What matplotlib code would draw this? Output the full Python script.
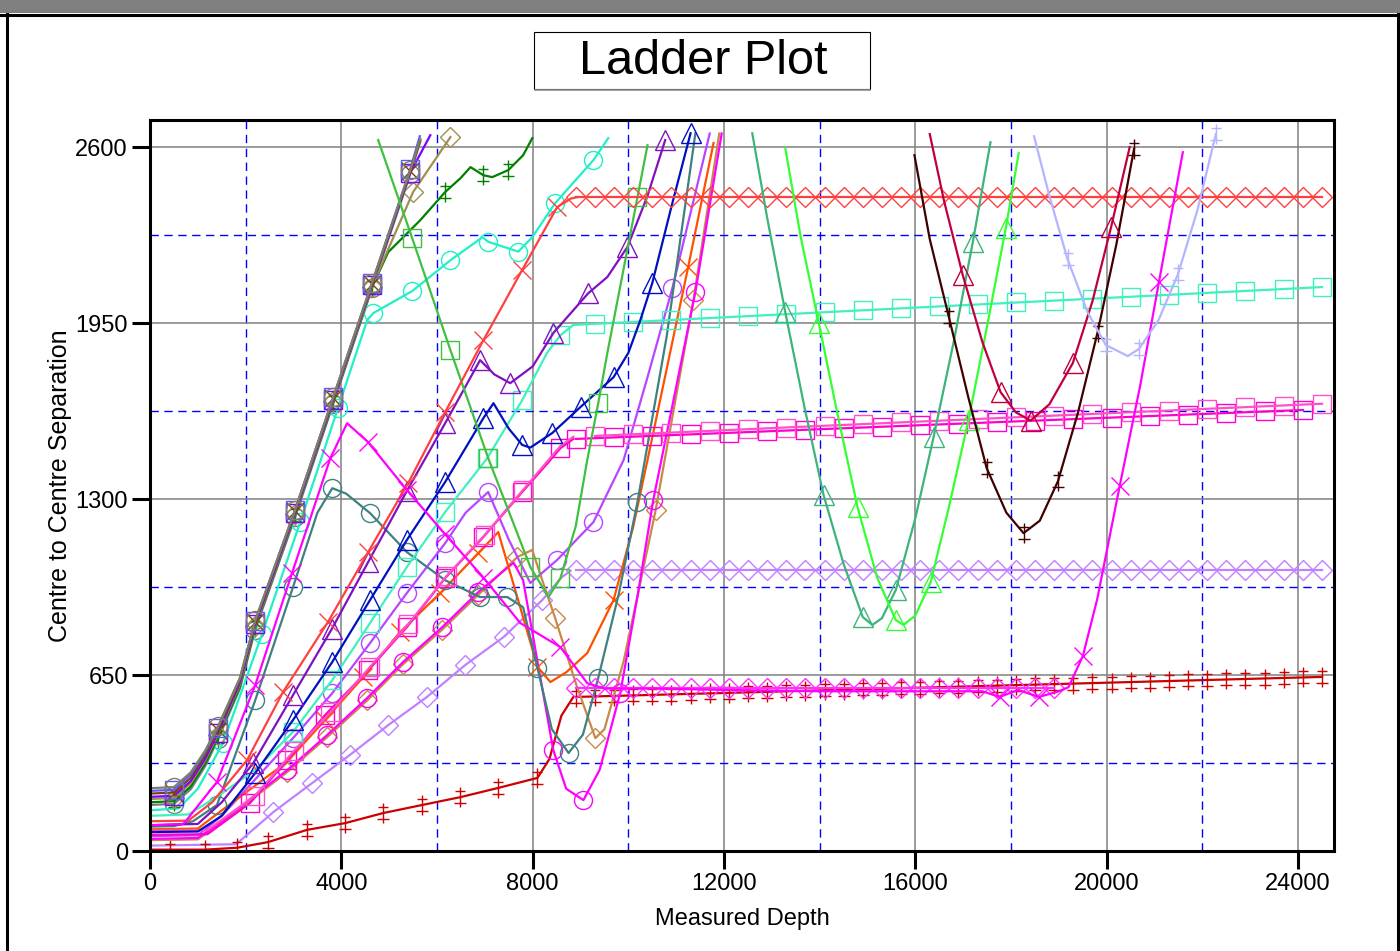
import matplotlib
matplotlib.use('Agg')
import matplotlib.pyplot as plt
from matplotlib.path import Path
from matplotlib.patches import Rectangle
from matplotlib.lines import Line2D

plt.rcParams['font.family'] = ['Liberation Sans', 'DejaVu Sans']

# ---- data (MD, centre-to-centre separation) ----
clu_md = [0, 500, 850, 1150, 1420, 1880, 2200, 3030, 3830, 4640, 5440, 5650]
k1_sep = [232, 236, 290, 370, 460, 640, 853, 1259, 1676, 2098, 2515, 2630]
k2_md = [0, 500, 850, 1150, 1420, 1880, 2200, 3030, 3830, 4640, 5440, 5640]
k2_sep = [222, 226, 282, 364, 456, 638, 850, 1258, 1676, 2098, 2518, 2640]
k3_sep = [212, 216, 270, 352, 446, 630, 845, 1255, 1672, 2094, 2510, 2625]
k4_md = [0, 500, 850, 1150, 1420, 1880, 2200, 3030, 3830, 4640, 5440, 5860]
k4_sep = [200, 204, 258, 340, 436, 622, 838, 1248, 1666, 2090, 2505, 2644]
k7_sep = [170, 174, 228, 312, 412, 600, 818, 1232, 1652, 2078, 2500, 2620]

olive_md = [0, 500, 850, 1150, 1420, 1880, 2200, 3030, 3830, 4640, 5500, 6280]
olive_sep = [192, 196, 250, 334, 430, 616, 832, 1244, 1662, 2085, 2434, 2637]

dgreen_md = [0, 500, 850, 1150, 1420, 1880, 2200, 3030, 3830, 4640, 4980, 5650,
             6170, 6490, 6700, 6970, 7155, 7490, 7800, 7991]
dgreen_sep = [180, 184, 238, 322, 420, 608, 826, 1240, 1658, 2082, 2212, 2330,
              2434, 2485, 2526, 2496, 2489, 2515, 2570, 2633]

cyano_md = [0, 600, 1000, 1530, 2340, 3140, 3930, 4540, 4670, 5480, 6280, 6950,
            7070, 7700, 7990, 8470, 9270, 9580]
cyano_sep = [150, 158, 230, 400, 800, 1215, 1636, 1961, 1987, 2068, 2182, 2267,
             2250, 2214, 2267, 2393, 2552, 2633]

teal_md = [0, 500, 900, 1400, 2200, 2990, 3500, 3810, 4100, 4600, 5370, 6170,
           6900, 7470, 7800, 8100, 8400, 8750, 9050, 9370, 9800, 10190, 10800, 11400]
teal_sep = [90, 92, 110, 170, 557, 975, 1250, 1340, 1320, 1248, 1104, 1000,
            938, 938, 900, 676, 450, 362, 430, 639, 950, 1289, 1900, 2650]

redx_md = [0, 800, 1300, 2030, 2780, 3720, 4560, 5400, 6170, 6970, 7780, 8510, 8800, 8930]
redx_sep = [110, 112, 180, 336, 587, 846, 1104, 1360, 1621, 1887, 2146, 2378, 2410, 2415]

purp_md = [0, 1000, 1500, 2160, 2990, 3800, 4560, 5370, 6170, 6900, 7200, 7530,
           8000, 8430, 9160, 9560, 9980, 10400, 10770]
purp_sep = [95, 100, 180, 325, 576, 820, 1067, 1330, 1580, 1813, 1760, 1728,
            1790, 1913, 2060, 2120, 2231, 2420, 2626]

blue_md = [0, 1000, 1500, 2200, 2990, 3810, 4600, 5370, 6170, 6970, 7180, 7500,
           7780, 7950, 8410, 9000, 9690, 10000, 10250, 10500, 10900, 11300]
blue_sep = [70, 72, 130, 288, 484, 698, 927, 1149, 1363, 1599, 1654, 1560,
            1500, 1490, 1544, 1640, 1750, 1840, 1961, 2098, 2380, 2651]

aqua_md = [0, 800, 1400, 2200, 2990, 3810, 4600, 5370, 6170, 7050, 7780, 8300, 8580, 8850]
aqua_sep = [130, 135, 200, 300, 440, 631, 842, 1049, 1252, 1451, 1665, 1840, 1905, 1943]

pink1_md = [0, 1200, 2090, 2870, 3660, 4560, 5370, 6170, 6970, 7780, 8300, 8580, 8850]
pink1_sep = [60, 62, 177, 336, 502, 668, 827, 1008, 1160, 1326, 1430, 1488, 1522]
pink2_md = [0, 1200, 2200, 3000, 3770, 4600, 5400, 6200, 7000, 7800, 8300, 8580, 8850]
pink2_sep = [75, 77, 205, 368, 512, 680, 838, 1016, 1168, 1334, 1438, 1496, 1530]

mago_md = [0, 1000, 1500, 2870, 3700, 4540, 5290, 6110, 6860, 7600, 7800, 8100,
           8430, 8700, 9060, 9400, 9830, 10200, 10520, 11400, 11950]
mago_sep = [45, 48, 110, 299, 428, 565, 698, 827, 956, 1065, 1000, 700,
            373, 230, 188, 300, 583, 950, 1296, 2064, 2650]

tan_md = [0, 1000, 1500, 2870, 3700, 4540, 5290, 6110, 6860, 7680, 7990, 8200,
          8470, 8900, 9310, 9500, 9900, 10570, 11360, 11900]
tan_sep = [40, 43, 105, 292, 420, 556, 690, 818, 946, 1086, 1112, 1000,
           860, 620, 417, 450, 700, 1259, 2035, 2650]

orng_md = [0, 1000, 1500, 2870, 3660, 4460, 5230, 6070, 6860, 7280, 7600, 8100,
           8370, 8700, 9140, 9690, 10100, 10400, 10800, 11250, 11780]
orng_sep = [80, 83, 150, 330, 484, 643, 809, 953, 1100, 1178, 985, 680,
            624, 660, 731, 927, 1197, 1444, 1780, 2157, 2615]

violo_md = [0, 1000, 1500, 2990, 3810, 4600, 5370, 6170, 6600, 7070, 7500, 7950,
            8510, 9270, 9900, 10400, 10920, 11700]
violo_sep = [55, 58, 130, 417, 583, 768, 953, 1137, 1250, 1326, 1150, 990,
             1075, 1215, 1444, 1750, 2079, 2650]

green_md = [4770, 5480, 6280, 7070, 7950, 8330, 8580, 8900, 9140, 9370, 9560, 10190, 10400]
green_sep = [2626, 2264, 1850, 1451, 1049, 938, 1008, 1200, 1444, 1654, 1839, 2415, 2607]

viold_md = [0, 1800, 2580, 3390, 4180, 4980, 5790, 6590, 7390, 8200, 8600, 8790]
viold_sep = [20, 25, 144, 251, 355, 465, 569, 687, 790, 927, 1010, 1035]

redd_md = [0, 420, 1150, 1820, 2470, 3280, 4080, 4870, 5690, 6490, 7280, 8100,
           8350, 8600, 8850]
redd_sep = [5, 5, 5, 12, 33, 78, 103, 140, 170, 199, 233, 270, 340, 500, 569]

magx_md = [0, 700, 1400, 2200, 2970, 3770, 4120, 4560, 5370, 6170, 6970, 7740,
           8580, 9140, 9500, 10500, 12000, 14000, 16000, 17400, 17760, 18150,
           18580, 19000, 19200, 19500, 19800, 20270, 20700, 21090, 21590]
magx_sep = [95, 100, 255, 613, 1027, 1451, 1580, 1510, 1333, 1170, 1010, 842,
            753, 620, 600, 600, 595, 590, 590, 590, 569, 595,
            569, 590, 605, 720, 930, 1348, 1720, 2101, 2581]

sea_md = [12590, 12900, 13280, 13680, 14080, 14500, 14900, 15100, 15300, 15590,
          16000, 16380, 16800, 17200, 17570]
sea_sep = [2651, 2340, 1990, 1640, 1315, 1060, 864, 835, 860, 964,
           1230, 1529, 1880, 2249, 2618]

lime_md = [13280, 13600, 13980, 14400, 14790, 15200, 15590, 15750, 16000, 16320,
           16700, 17110, 17500, 17890, 18160]
lime_sep = [2596, 2270, 1950, 1590, 1270, 1010, 853, 835, 870, 993,
            1270, 1592, 1940, 2301, 2578]

dbrown_md = [15980, 16300, 16700, 17100, 17490, 17900, 18260, 18600, 18980,
             19400, 19810, 20200, 20570]
dbrown_sep = [2570, 2260, 1972, 1680, 1414, 1250, 1174, 1220, 1366,
              1620, 1917, 2240, 2593]

crim_md = [16300, 16600, 16990, 17400, 17780, 18100, 18410, 18800, 19290, 19700, 20090, 20480]
crim_sep = [2648, 2400, 2127, 1880, 1695, 1620, 1590, 1650, 1802, 2030, 2304, 2600]

lav_md = [18480, 18800, 19180, 19600, 19980, 20440, 20670, 21080, 21490, 21900, 22280]
lav_sep = [2640, 2420, 2186, 1990, 1869, 1828, 1854, 1960, 2131, 2370, 2648]

# survey stations along the flat tails (every 400 ft MD)
st400 = [8900, 9300, 9700, 10100, 10500, 10900, 11300, 11700, 12100, 12500,
         12900, 13300, 13700, 14100, 14500, 14900, 15300, 15700, 16100, 16500,
         16900, 17300, 17700, 18100, 18500, 18900, 19300, 19700, 20100, 20500,
         20900, 21300, 21700, 22100, 22500, 22900, 23300, 23700, 24100, 24500]
redflat_sep = 2415
violdflat_sep = 1038
magdflat_sep = 602
reddflat_sep = [569, 571, 573, 575, 577, 578, 580, 582, 584, 586,
                588, 590, 592, 594, 596, 598, 599, 601, 603, 605,
                607, 609, 611, 613, 615, 617, 618, 620, 622, 624,
                626, 628, 630, 632, 634, 636, 637, 639, 641, 643]
aquaflat_sep = [1947, 1954, 1961, 1968, 1976, 1983, 1990, 1997, 2004, 2012,
                2019, 2026, 2033, 2040, 2048, 2055, 2062, 2069, 2076, 2083]   # odd stations
pink1flat_sep = [1522, 1528, 1533, 1539, 1545, 1550, 1556, 1561, 1567, 1573,
                 1578, 1584, 1590, 1595, 1601, 1607, 1612, 1618, 1624, 1629]  # even stations
pink2flat_sep = [1533, 1539, 1545, 1552, 1558, 1564, 1570, 1577, 1583, 1589,
                 1595, 1602, 1608, 1614, 1620, 1627, 1633, 1639, 1645, 1652]  # odd stations

x_ticks = [0, 4000, 8000, 12000, 16000, 20000, 24000]
y_ticks = [0, 650, 1300, 1950, 2600]
x_minor = [2000, 6000, 10000, 14000, 18000, 22000]
y_minor = [325, 975, 1625, 2275]

# ---- figure ----
fig = plt.figure(figsize=(14, 9.51), dpi=100)
ax = fig.add_axes([0.10714, 0.10515, 0.84571, 0.76866])

DDAG = Path([(0, -1), (0, 1), (-0.45, 0.6), (0.45, 0.6), (-0.6, -0.55), (0.6, -0.55)],
            [Path.MOVETO, Path.LINETO] * 3)
MK = {'o': ('o', 13), 's': ('s', 13), 'D': ('D', 10), '^': ('^', 14),
      'x': ('x', 13), 'dd': (DDAG, 15)}


def draw(x, y, color, mk=None, me=None, line=True):
    m, ms = MK[mk] if mk else (None, 0)
    ax.plot(x, y, color=color, lw=1.6 if line else 0, ls='-' if line else 'none',
            marker=m, markevery=me, ms=ms, mfc='none', mec=color, mew=1.0)


def tail(x, y, color, mk):
    # straight tail line plus its station markers
    ax.plot([x[0], x[-1]], [y[0], y[-1]], color=color, lw=1.6)
    draw(x, y, color, mk, line=False)


clu_me = [1, 4, 6, 7, 8, 9, 10]
draw(clu_md, k7_sep, '#6f7f7f', 'o', clu_me)
draw(cyano_md, cyano_sep, '#1ff0c8', 'o', [3, 4, 5, 6, 8, 9, 10, 12, 13, 15, 16])
draw(dgreen_md, dgreen_sep, '#008000', 'dd', [1, 4, 6, 7, 8, 9, 12, 15, 17])
draw(olive_md, olive_sep, '#a09050', 'D', [1, 4, 6, 7, 8, 9, 10, 11])
draw(k4_md, k4_sep, '#8000ff', 's', clu_me)
draw(clu_md, k3_sep, '#7b3f10', 'x', clu_me)
draw(k2_md, k2_sep, '#5a5aff', 's', clu_me)
draw(clu_md, k1_sep, '#808060', 'o', clu_me)

draw(viold_md, viold_sep, '#c080ff', 'D', [2, 3, 4, 5, 6, 7, 8, 9])
tail(st400, [violdflat_sep] * len(st400), '#c080ff', 'D')

draw(redd_md, redd_sep, '#cc0000', 'dd', [1, 2, 3, 4, 5, 6, 7, 8, 9, 10, 11])
tail(st400, reddflat_sep, '#cc0000', 'dd')

draw(tan_md, tan_sep, '#c8884a', 'D', [3, 4, 5, 6, 7, 8, 9, 12, 14, 17, 18])
draw(mago_md, mago_sep, '#ff00ff', 'o', [3, 4, 5, 6, 7, 8, 12, 14, 16, 18, 19])
draw(violo_md, violo_sep, '#b845ff', 'o', [3, 4, 5, 6, 7, 9, 12, 13, 16])
draw(orng_md, orng_sep, '#ff5000', 'x', [4, 5, 6, 7, 8, 11, 15, 19])
draw(teal_md, teal_sep, '#3f8080', 'o', [3, 4, 5, 7, 9, 10, 11, 12, 13, 15, 17, 19, 21])

draw(pink1_md, pink1_sep, '#ff00cc', 's', [2, 3, 4, 5, 6, 7, 8, 9, 11])
tail(st400[0::2], pink1flat_sep, '#ff00cc', 's')
draw(pink2_md, pink2_sep, '#ff50c8', 's', [2, 3, 4, 5, 6, 7, 8, 9])
tail(st400[1::2], pink2flat_sep, '#ff50c8', 's')

draw(aqua_md, aqua_sep, '#40f0c0', 's', [4, 5, 6, 7, 8, 9, 10, 12])
ax.plot([aqua_md[-1], st400[-1]], [aqua_sep[-1], aquaflat_sep[-1]], color='#40f0c0', lw=1.6)
draw(st400[1::2], aquaflat_sep, '#40f0c0', 's', line=False)

draw(blue_md, blue_sep, '#0010c0', '^', [3, 4, 5, 6, 7, 8, 9, 12, 14, 15, 16, 19, 21])
draw(purp_md, purp_sep, '#8010c0', '^', [3, 4, 5, 6, 7, 8, 9, 11, 13, 14, 16, 18])
draw(green_md, green_sep, '#40c040', 's', [1, 2, 3, 4, 6, 9, 11])

draw(redx_md, redx_sep, '#ff4040', 'x', [3, 4, 5, 6, 7, 8, 9, 10, 11])
tail(st400, [redflat_sep] * len(st400), '#ff4040', 'D')

tail(st400[:26], [magdflat_sep] * 26, '#ff30ff', 'D')
draw(magx_md, magx_sep, '#ff00ff', 'x', [2, 3, 4, 5, 7, 8, 9, 10, 12, 20, 22, 25, 27, 29])

draw(sea_md, sea_sep, '#3cb47a', '^', [2, 4, 6, 9, 11, 13])
draw(lime_md, lime_sep, '#33ff33', '^', [2, 4, 6, 9, 11, 13])
draw(dbrown_md, dbrown_sep, '#400000', 'dd', [2, 4, 6, 8, 10, 12])
draw(crim_md, crim_sep, '#c0003c', '^', [2, 4, 6, 8, 10])
draw(lav_md, lav_sep, '#b4b4ff', 'dd', [2, 4, 6, 8, 10])

# ---- axes styling ----
ax.set_xlim(0, 24750)
ax.set_ylim(0, 2700)
ax.set_xticks(x_ticks)
ax.set_yticks(y_ticks)
ax.set_xticks(x_minor, minor=True)
ax.set_yticks(y_minor, minor=True)
ax.set_axisbelow(True)
ax.grid(which='major', color='#808080', lw=1.1, ls='-')
ax.grid(which='minor', color='#0000ff', lw=1.0, ls=(0, (6, 4)))
ax.tick_params(which='major', direction='out', length=13, width=2.2,
               labelsize=17, pad=3)
ax.tick_params(which='minor', length=0)
for sp in ax.spines.values():
    sp.set_linewidth(2.2)

ax.set_xlabel('Measured Depth', fontsize=17)
ax.xaxis.set_label_coords(0.5, -0.078)
ax.set_ylabel('Centre to Centre Separation', fontsize=18)
ax.yaxis.set_label_coords(-0.066, 0.5)

# title box
fig.add_artist(Rectangle((534 / 1400, 1 - 89 / 951), 336 / 1400, 57 / 951,
                         transform=fig.transFigure, fill=False, ec='black', lw=0.8))
fig.add_artist(Line2D([535 / 1400, 870 / 1400], [1 - 90 / 951] * 2,
                      transform=fig.transFigure, color='#909090', lw=1.2))
fig.text(703 / 1400, 1 - 61 / 951, 'Ladder Plot', ha='center', va='center', fontsize=35)

# window frame
fig.add_artist(Rectangle((0, 1 - 13 / 951), 1, 13 / 951, transform=fig.transFigure,
                         color='#808080', lw=0))
fig.add_artist(Line2D([0, 1], [1 - 14.5 / 951] * 2, transform=fig.transFigure,
                      color='black', lw=2.2))
fig.add_artist(Line2D([6.5 / 1400] * 2, [0, 1 - 14 / 951], transform=fig.transFigure,
                      color='black', lw=2.2))
fig.add_artist(Line2D([1398 / 1400] * 2, [0, 1 - 14 / 951], transform=fig.transFigure,
                      color='black', lw=2.2))

fig.savefig('out.png', dpi=100)
